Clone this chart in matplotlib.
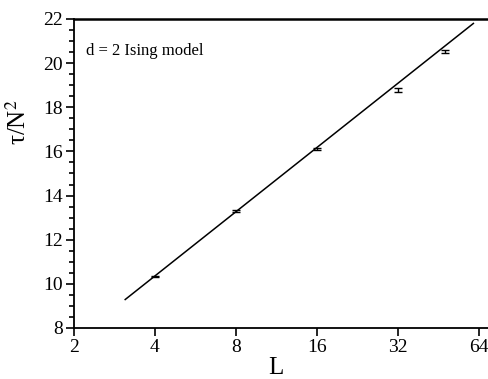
"""
Autocorrelation time tau/N^2 against system size L, 2D Ising model.
"""
import numpy as np
import matplotlib.pyplot as plt
from matplotlib.ticker import FixedLocator, FixedFormatter, MultipleLocator

plt.rcParams['font.family'] = ['Liberation Serif', 'DejaVu Serif']
plt.rcParams['mathtext.fontset'] = 'stix'

L = [4, 8, 16, 32, 48]
tau = [10.33, 13.30, 16.10, 18.78, 20.52]
tau_err = [0.03, 0.03, 0.04, 0.08, 0.08]

# fitted line tau/N^2 = a + b*log2(L)
fit_a = 4.54
fit_b = 2.91
fit_range = [3.1, 61.0]

xticks = [2, 4, 8, 16, 32, 64]

fig = plt.figure(figsize=(4.88, 3.79), dpi=100)
ax = fig.add_axes([0.1516, 0.1346, 0.8484, 0.8153])

ax.set_xscale('log', base=2)
xl = np.geomspace(fit_range[0], fit_range[1], 50)
ax.plot(xl, fit_a + fit_b * np.log2(xl), color='black', lw=1.1)

ax.errorbar(L, tau, yerr=tau_err, fmt='none', ecolor='black',
            elinewidth=1.0, capsize=3, capthick=1.0)

ax.set_xlim(2, 2 ** (1 + 414 / 81))
ax.set_ylim(8, 22)

ax.xaxis.set_major_locator(FixedLocator(xticks))
ax.xaxis.set_major_formatter(FixedFormatter([str(t) for t in xticks]))
ax.xaxis.set_minor_locator(FixedLocator([]))
ax.yaxis.set_major_locator(MultipleLocator(2))
ax.yaxis.set_minor_locator(MultipleLocator(0.5))

ax.tick_params(axis='both', which='major', direction='out', length=6,
               width=1.2, labelsize=14, pad=2)
ax.tick_params(axis='y', which='minor', direction='out', length=3.5, width=1.2)

ax.spines['right'].set_visible(False)
ax.spines['top'].set_linewidth(1.8)
ax.spines['left'].set_linewidth(1.3)
ax.spines['bottom'].set_linewidth(1.3)

ax.text(0.03, 0.895, 'd = 2 Ising model', transform=ax.transAxes,
        fontsize=12, va='center', ha='left')

ax.set_xlabel('L', fontsize=18, labelpad=1)
ax.xaxis.set_label_coords(0.488, -0.093)
ax.set_ylabel('τ/N$^2$', fontsize=18)
ax.yaxis.set_label_coords(-0.105, 0.667)

plt.savefig('out.png', dpi=100)
